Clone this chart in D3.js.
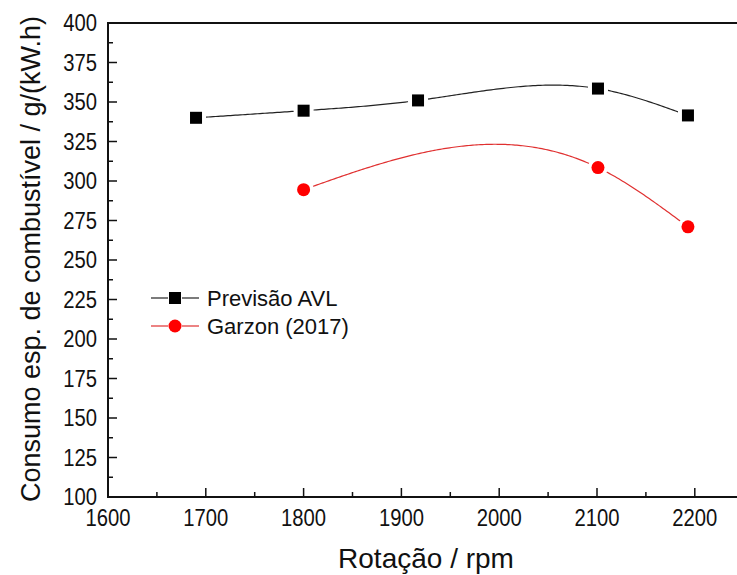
<!DOCTYPE html>
<html>
<head>
<meta charset="utf-8">
<script src="https://cdn.jsdelivr.net/npm/d3@7"></script>
<style>
  body { margin: 0; background: #fff; }
  text { font-family: "Liberation Sans", Arial, sans-serif; fill: #111; }
</style>
</head>
<body>
<svg id="chart" width="737" height="575"></svg>
<script>
// data
const rpmAVL = [1690, 1800, 1917, 2101, 2193];
const consumoAVL = [340, 344.5, 351, 358.5, 341.5];
const rpmGarzon = [1800, 2101, 2193];
const consumoGarzon = [294.5, 308.5, 271];
const xTicks = [1600, 1700, 1800, 1900, 2000, 2100, 2200];
const yTicks = [100, 125, 150, 175, 200, 225, 250, 275, 300, 325, 350, 375, 400];
const seriesNames = ['Previsão AVL', 'Garzon (2017)'];

const svg = d3.select('#chart');
const m = {left: 108, top: 23, bottom: 497};

const x = d3.scaleLinear().domain([1600, 2250]).range([m.left, m.left + 6.5 * 97.8]);
const y = d3.scaleLinear().domain([100, 400]).range([m.bottom, m.top]);

// natural cubic spline y(x), like the origin "spline" connector
function naturalSpline(xs, ys) {
  const n = xs.length, h = [], M = new Array(n).fill(0);
  for (let i = 0; i < n - 1; i++) h.push(xs[i + 1] - xs[i]);
  if (n > 2) {
    // tridiagonal solve for second derivatives
    const a = [], b = [], c = [], r = [];
    for (let i = 1; i < n - 1; i++) {
      a.push(h[i - 1]); b.push(2 * (h[i - 1] + h[i])); c.push(h[i]);
      r.push(6 * ((ys[i + 1] - ys[i]) / h[i] - (ys[i] - ys[i - 1]) / h[i - 1]));
    }
    const k = b.length;
    for (let i = 1; i < k; i++) {
      const w = a[i] / b[i - 1];
      b[i] -= w * c[i - 1]; r[i] -= w * r[i - 1];
    }
    const sol = new Array(k);
    sol[k - 1] = r[k - 1] / b[k - 1];
    for (let i = k - 2; i >= 0; i--) sol[i] = (r[i] - c[i] * sol[i + 1]) / b[i];
    for (let i = 0; i < k; i++) M[i + 1] = sol[i];
  }
  return t => {
    let i = 0;
    while (i < n - 2 && t > xs[i + 1]) i++;
    const A = (xs[i + 1] - t) / h[i], B = (t - xs[i]) / h[i];
    return A * ys[i] + B * ys[i + 1] +
      ((A * A * A - A) * M[i] + (B * B * B - B) * M[i + 1]) * h[i] * h[i] / 6;
  };
}
function sampled(xs, ys) {
  const f = naturalSpline(xs, ys);
  const lo = xs[0], hi = xs[xs.length - 1];
  return d3.range(0, 201).map(j => { const t = lo + (hi - lo) * j / 200; return [t, f(t)]; });
}

svg.append('defs').append('clipPath').attr('id', 'clip')
  .append('rect').attr('x', 0).attr('y', 0).attr('width', 737).attr('height', 575);

// frame (right side falls outside the window)
svg.append('path')
  .attr('d', `M${x(2250)},${m.top}H${m.left}V${m.bottom}H${x(2250)}`)
  .attr('fill', 'none').attr('stroke', '#111').attr('stroke-width', 2);

// y axis ticks, pointing inward
const yMinor = d3.range(112.5, 400, 25);
svg.append('g').selectAll('line').data(yTicks.slice(1, -1)).join('line')
  .attr('x1', m.left).attr('x2', m.left + 9)
  .attr('y1', d => y(d)).attr('y2', d => y(d))
  .attr('stroke', '#111').attr('stroke-width', 1.5);
svg.append('g').selectAll('line').data(yMinor).join('line')
  .attr('x1', m.left).attr('x2', m.left + 5)
  .attr('y1', d => y(d)).attr('y2', d => y(d))
  .attr('stroke', '#111').attr('stroke-width', 1.5);
svg.append('g').selectAll('text').data(yTicks).join('text')
  .attr('transform', d => `translate(${m.left - 11},${y(d) + 8}) scale(0.88,1)`)
  .attr('text-anchor', 'end').attr('font-size', 23)
  .text(d => d);

// x axis ticks
const xMinor = d3.range(1650, 2250, 100);
svg.append('g').selectAll('line').data(xTicks.slice(1)).join('line')
  .attr('x1', d => x(d)).attr('x2', d => x(d))
  .attr('y1', m.bottom).attr('y2', m.bottom - 9)
  .attr('stroke', '#111').attr('stroke-width', 1.5);
svg.append('g').selectAll('line').data(xMinor).join('line')
  .attr('x1', d => x(d)).attr('x2', d => x(d))
  .attr('y1', m.bottom).attr('y2', m.bottom - 5)
  .attr('stroke', '#111').attr('stroke-width', 1.5);
svg.append('g').selectAll('text').data(xTicks).join('text')
  .attr('transform', d => `translate(${x(d)},${m.bottom + 29}) scale(0.88,1)`)
  .attr('text-anchor', 'middle').attr('font-size', 23)
  .text(d => d);

// axis titles
svg.append('text')
  .attr('x', 426).attr('y', 568)
  .attr('text-anchor', 'middle').attr('font-size', 28)
  .text('Rotação / rpm');
svg.append('text')
  .attr('transform', 'translate(40,259) rotate(-90)')
  .attr('text-anchor', 'middle').attr('font-size', 27)
  .text('Consumo esp. de combustível / g/(kW.h)');

// curves
const line = d3.line().x(d => x(d[0])).y(d => y(d[1]));
const avl = d3.zip(rpmAVL, consumoAVL);
const garzon = d3.zip(rpmGarzon, consumoGarzon);

const plot = svg.append('g').attr('clip-path', 'url(#clip)');
plot.append('path').datum(sampled(rpmAVL, consumoAVL)).attr('d', line)
  .attr('fill', 'none').attr('stroke', '#222').attr('stroke-width', 1.2);
plot.append('path').datum(sampled(rpmGarzon, consumoGarzon)).attr('d', line)
  .attr('fill', 'none').attr('stroke', '#e03030').attr('stroke-width', 1.2);

// markers with a white gap around them
plot.selectAll('rect.halo').data(avl).join('rect')
  .attr('x', d => x(d[0]) - 10).attr('y', d => y(d[1]) - 10)
  .attr('width', 20).attr('height', 20).attr('fill', '#fff');
plot.selectAll('rect.mk').data(avl).join('rect')
  .attr('x', d => x(d[0]) - 6).attr('y', d => y(d[1]) - 6)
  .attr('width', 12).attr('height', 12).attr('fill', '#000');
plot.selectAll('circle.halo').data(garzon).join('circle')
  .attr('cx', d => x(d[0])).attr('cy', d => y(d[1])).attr('r', 10).attr('fill', '#fff');
plot.selectAll('circle.mk').data(garzon).join('circle')
  .attr('cx', d => x(d[0])).attr('cy', d => y(d[1])).attr('r', 6.5).attr('fill', '#f00');

// legend
const legend = svg.append('g');
const ly = [298, 326];
const colors = ['#222', '#e03030'];
seriesNames.forEach((name, i) => {
  const g = legend.append('g').attr('transform', `translate(0,${ly[i]})`);
  g.append('line').attr('x1', 151).attr('x2', 168).attr('stroke', colors[i]).attr('stroke-width', 1.2);
  g.append('line').attr('x1', 182).attr('x2', 199).attr('stroke', colors[i]).attr('stroke-width', 1.2);
  if (i === 0) g.append('rect').attr('x', 169).attr('y', -6).attr('width', 12).attr('height', 12).attr('fill', '#000');
  else g.append('circle').attr('cx', 175).attr('cy', 0).attr('r', 6.5).attr('fill', '#f00');
  g.append('text').attr('x', 207).attr('y', 8).attr('font-size', 22).text(name);
});
</script>
</body>
</html>
